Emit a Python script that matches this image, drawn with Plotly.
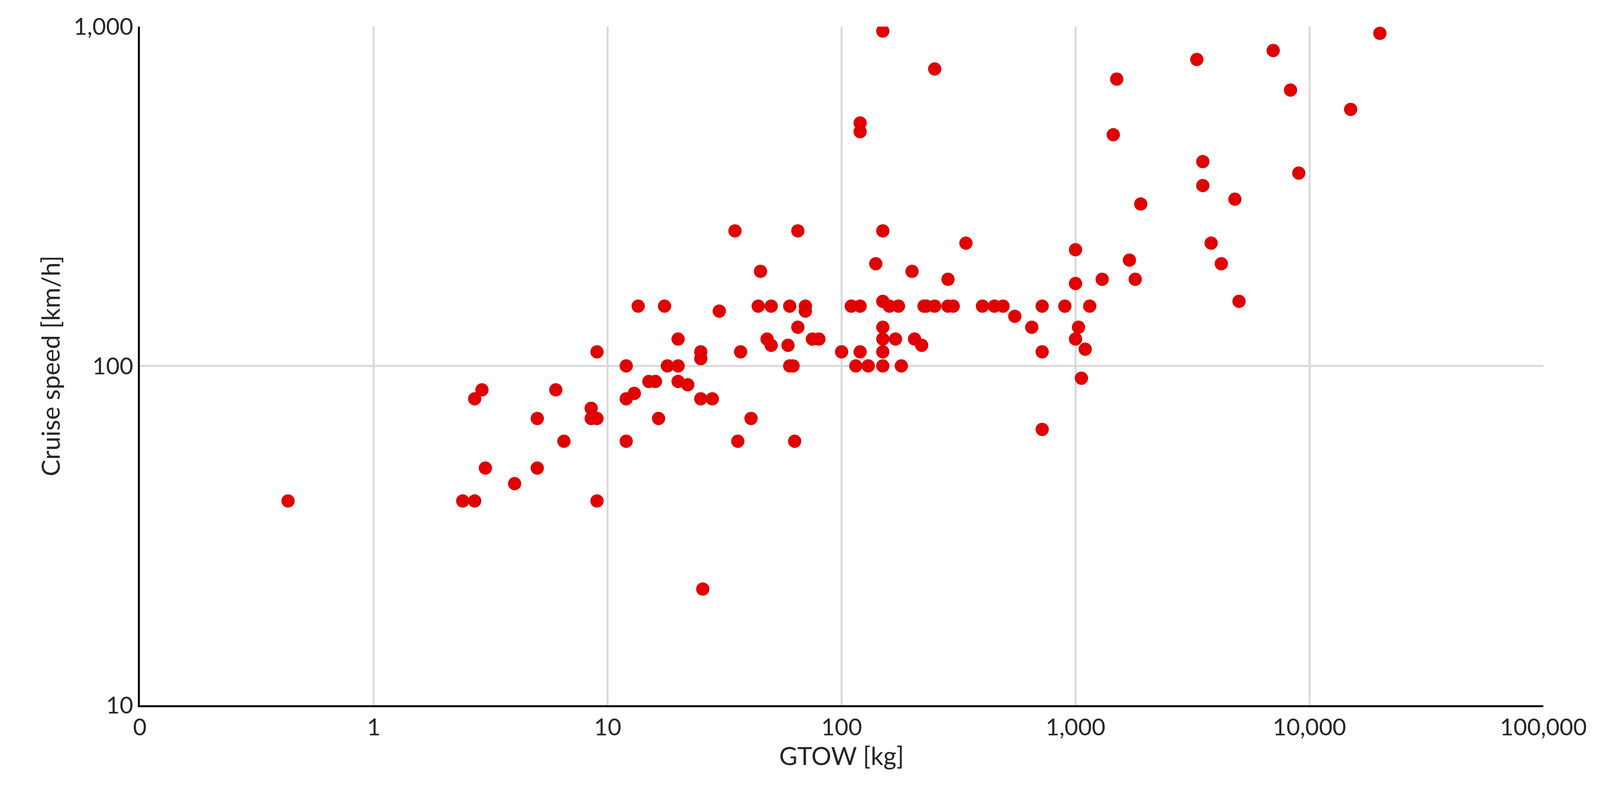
import plotly.graph_objects as go

gtow = [0.43,2.4,2.7,2.7,2.9,3.0,4.0,5,5,6,6.5,8.5,8.5,9,9,9,12,12,12,13,13.5,15,16,16.5,17.5,18,20,20,20,22,25,25,25,25.5,28,30,35,37,36,41,44,45,48,50,50,59,60,60,62,63,65,65,70,70,75,80,100,110,115,120,120,120,120,130,140,150,150,150,150,150,150,150,160,170,175,180,200,205,220,225,230,250,250,285,285,300,340,400,450,490,550,650,720,720,720,900,1000,1000,1000,1030,1060,1100,1150,1300,1450,1500,1700,1800,1900,3300,3500,3500,3800,4200,4800,5000,7000,8300,9000,15000,20000]
speed = [40,40,40,80,85,50,45,70,50,85,60,75,70,70,110,40,100,80,60,83,150,90,90,70,150,100,120,100,90,88,110,105,80,22,80,145,250,110,60,70,150,190,120,150,115,115,150,100,100,60,250,130,150,145,120,120,110,150,100,110,150,490,520,100,200,970,250,155,130,120,110,100,150,120,150,100,190,120,115,150,150,750,150,180,150,150,230,150,150,150,140,130,150,110,65,150,220,175,120,130,92,112,150,180,480,700,205,180,300,800,400,340,230,200,310,155,850,650,370,570,955]

x_ticks = [0.1,1,10,100,1000,10000,100000]
x_labels = ["0","1","10","100","1,000","10,000","100,000"]
y_ticks = [10,100,1000]
y_labels = ["10","100","1,000"]

fig = go.Figure(go.Scatter(x=gtow, y=speed, mode="markers",
    marker=dict(color="#e00000", size=34, line=dict(width=0))))
font = dict(family="Lato, Open Sans, sans-serif", size=60, color="#262626")
fig.update_layout(width=4273, height=2027, plot_bgcolor="white", paper_bgcolor="white",
    margin=dict(l=350, r=330, t=60, b=230), showlegend=False, font=font)
fig.update_xaxes(type="log", range=[-1,5], tickvals=x_ticks, ticktext=x_labels,
    showgrid=True, gridcolor="#d9d9d9", gridwidth=5, showline=True, linecolor="#000000", linewidth=5,
    zeroline=False, ticks="", title=dict(text="GTOW [kg]", font=dict(size=64)), tickfont=dict(size=60))
fig.update_yaxes(type="log", range=[1,3], tickvals=y_ticks, ticktext=y_labels,
    showgrid=True, gridcolor="#d9d9d9", gridwidth=5, showline=True, linecolor="#000000", linewidth=5,
    zeroline=False, ticks="", title=dict(text="Cruise speed [km/h]", font=dict(size=64)), tickfont=dict(size=60))
fig.write_html("out.html")
